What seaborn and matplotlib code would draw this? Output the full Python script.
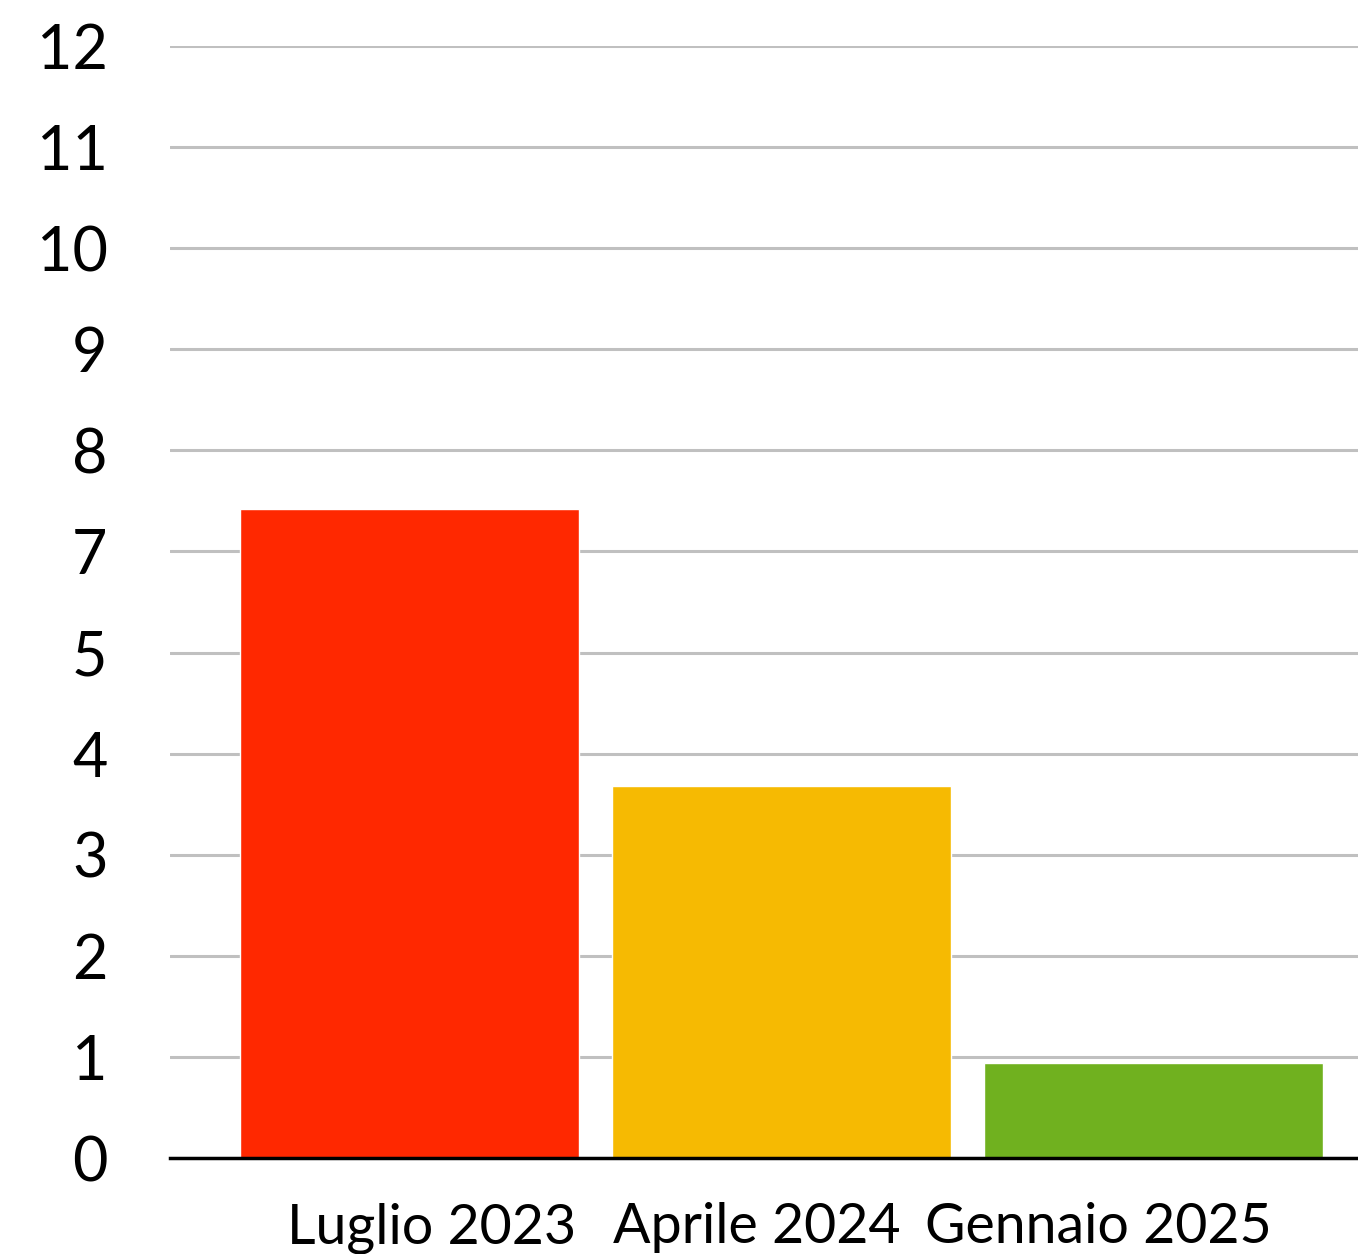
import matplotlib
matplotlib.use("Agg")
import matplotlib.pyplot as plt
import seaborn as sns
import pandas as pd

categories = ["Luglio 2023", "Aprile 2024", "Gennaio 2025"]
values = [6.42, 3.68, 0.94]  # in axis grid units
colors = ["#FF2800", "#F6BA02", "#70B11F"]
ytick_labels = ["0", "1", "2", "3", "4", "5", "7", "8", "9", "10", "11", "12"]

sns.set_theme(style="white")
plt.rcParams["font.family"] = ["Lato", "DejaVu Sans"]

fig = plt.figure(figsize=(13.58, 12.54), dpi=100)
ax = fig.add_axes([170 / 1358, 96 / 1254, 1 - 170 / 1358, (1158 - 46) / 1254])

df = pd.DataFrame({"cat": categories, "val": values})
sns.barplot(data=df, x="cat", y="val", hue="cat", palette=colors, legend=False,
            width=0.911, saturation=1, ax=ax, zorder=3)

ax.set_xlim(-0.644, 2.55)
ax.set_ylim(0, 11)
ax.set_yticks(range(len(ytick_labels)))
ax.set_yticklabels(ytick_labels, fontsize=44, color="black")
ax.yaxis.grid(True, color="#c0c0c0", linewidth=2.2, zorder=0)
ax.set_axisbelow(True)
ax.tick_params(axis="y", length=0, pad=45)
ax.tick_params(axis="x", length=0, pad=32)
ax.set_xticks([0.06, 0.934, 1.853])
ax.set_xticklabels(categories, fontsize=40, color="black")
ax.set_xlabel("")
ax.set_ylabel("")

for s in ["top", "right", "left"]:
    ax.spines[s].set_visible(False)
ax.spines["bottom"].set_color("black")
ax.spines["bottom"].set_linewidth(2.5)
ax.spines["bottom"].set_zorder(5)

fig.savefig("out.png", dpi=100, facecolor="white")
